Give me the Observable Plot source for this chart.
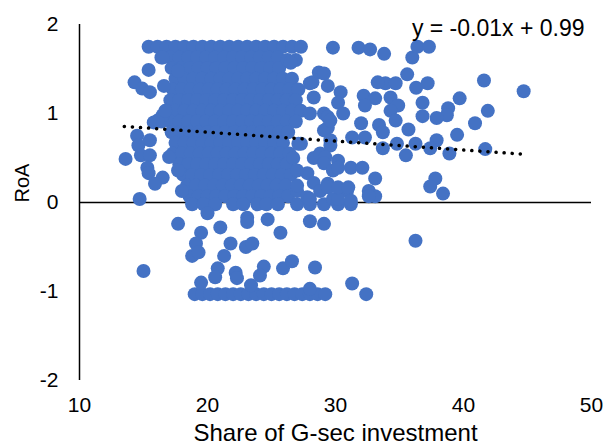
<!DOCTYPE html>
<html><head><meta charset="utf-8">
<script src="https://cdn.jsdelivr.net/npm/d3@7"></script>
<script src="https://cdn.jsdelivr.net/npm/@observablehq/plot@0.6"></script>
<style>html,body{margin:0;padding:0;background:#fff;} svg{display:block}</style>
</head><body><div id="chart"></div>
<script>
// Tick labels and titles
const xTicks = [10, 20, 30, 40, 50];
const yTicks = [-2, -1, 0, 1, 2];
const xLabel = "Share of G-sec investment";
const yLabel = "RoA";

// Trend line (Excel linear trendline)
const trendSlope = -0.01;
const trendIntercept = 0.99;
const trendXRange = [13.5, 44.6];

// Dense core of the cloud: rows of [RoA, shares]
const blobRows = [
  [1.75, [15.4,16.1,16.8,17.5,18.2,18.9,19.6,20.3,21.0,21.7,22.4,23.1,23.8,24.5,25.2,25.9,26.6,27.3]],
  [1.63, [16.4,17.1,17.8,18.5,19.2,19.9,20.6,21.3,22.0,22.7,23.4,24.1,24.8,25.5]],
  [1.51, [17.2,17.9,18.6,19.3,20.0,20.7,21.4,22.1,22.8,23.5,24.2,24.9,25.6]],
  [1.39, [17.5,18.2,18.9,19.6,20.3,21.0,21.7,22.4,23.1,23.8,24.5,25.2,25.9,26.6]],
  [1.27, [17.3,18.0,18.7,19.4,20.1,20.8,21.5,22.2,22.9,23.6,24.3,25.0,25.7,26.4,27.1]],
  [1.15, [17.1,17.8,18.5,19.2,19.9,20.6,21.3,22.0,22.7,23.4,24.1,24.8,25.5,26.2,26.9]],
  [1.03, [16.8,17.5,18.2,18.9,19.6,20.3,21.0,21.7,22.4,23.1,23.8,24.5,25.2,25.9,26.6,27.3]],
  [0.91, [16.4,17.1,17.8,18.5,19.2,19.9,20.6,21.3,22.0,22.7,23.4,24.1,24.8,25.5,26.2,26.9]],
  [0.79, [17.2,17.9,18.6,19.3,20.0,20.7,21.4,22.1,22.8,23.5,24.2,24.9,25.6,26.3]],
  [0.67, [17.5,18.2,18.9,19.6,20.3,21.0,21.7,22.4,23.1,23.8,24.5,25.2,25.9]],
  [0.55, [17.3,18.0,18.7,19.4,20.1,20.8,21.5,22.2,22.9,23.6,24.3,25.0,25.7,26.4]],
  [0.43, [17.8,18.5,19.2,19.9,20.6,21.3,22.0,22.7,23.4,24.1,24.8,25.5,26.2]],
  [0.31, [18.1,18.8,19.5,20.2,20.9,21.6,22.3,23.0,23.7,24.4,25.1,25.8,26.5]],
  [0.19, [18.4,19.1,19.8,20.5,21.2,21.9,22.6,23.3,24.0,24.7,25.4,26.1]],
  [0.07, [18.6,19.3,20.0,20.7,21.4,22.1,22.8,23.5,24.2,24.9,25.6,26.3]],
  [-0.02, [18.8,19.7,20.6,22.0,22.8,23.9,24.6,25.5,27.0,28.0,29.1,30.2,31.2]],
  [-1.03, [19.0,19.6,20.2,20.8,21.4,22.0,22.6,23.2,23.8,24.4,25.0,25.6,26.2,26.8,27.4,28.0,28.6,29.2,32.4]]
];

// Scattered points left of the core [share, RoA]
const leftScatter = [
  [13.6,0.49],[14.3,1.35],[14.9,1.28],[15.4,1.49],[15.5,1.24],[16.6,1.31],[16.5,1.63],
  [16.5,0.98],[16.1,0.92],[15.8,0.9],[14.5,0.75],[14.6,0.64],[15.5,0.70],[14.8,0.53],
  [15.5,0.53],[15.3,0.39],[15.4,0.33],[16.5,0.28],[15.9,0.21],[14.7,0.04],[17.0,0.51],
  [17.7,0.36],[18.0,0.13],[17.7,1.48],[16.7,1.03],[15.0,-0.77]
];

// Scattered points right of the core
const rightScatter = [
  [26.25,1.6],[26.9,1.6],[26.5,1.57],[28.7,1.46],[29.1,1.45],[28.2,1.35],[28.0,1.34],
  [29.4,1.31],[28.3,1.18],[29.1,1.0],[28.0,1.0],[29.4,0.96],[29.4,0.84],[29.1,0.81],
  [29.6,0.92],[29.6,0.7],[27.1,0.66],[27.3,0.66],[29.6,0.64],[28.3,0.5],[28.8,0.55],
  [26.7,0.5],[29.2,0.51],[30.2,0.47],[29.1,0.44],[27.8,0.33],[27.0,0.36],[29.8,0.36],
  [30.2,0.39],[27.0,0.13],[27.0,0.19],[28.3,0.22],[28.8,0.13],[29.4,0.21],[29.4,0.17],
  [30.9,0.13],[27.8,0.06],[28.0,0.04],[29.8,0.04],[30.2,0.04],
  [29.8,1.74],[31.8,1.74],[32.7,1.72],[33.8,1.67],[36.0,1.63],[36.4,1.75],[37.3,1.75],
  [41.6,1.37],[44.7,1.25],[41.9,1.03],[40.9,0.89],[39.7,1.17],[38.8,1.06],[38.7,0.98],
  [37.9,0.95],[39.5,0.76],[41.7,0.6],[38.9,0.55],[37.9,0.70],[37.4,0.61],[36.25,0.66],
  [35.5,0.53],[34.8,0.66],[35.7,0.82],[36.8,1.12],[36.8,0.97],[37.2,1.34],[36.3,1.29],
  [35.6,1.44],[33.9,1.34],[34.7,1.34],[33.3,1.35],[34.3,1.18],[34.9,1.09],[34.3,1.03],
  [34.7,0.92],[33.4,0.87],[33.7,0.79],[33.7,0.61],[32.0,0.89],[32.2,1.2],[33.1,1.17],
  [32.3,1.09],[30.4,1.24],[30.2,1.12],[30.6,1.0],[31.3,0.73],[32.3,0.73],[31.2,0.39],
  [32.1,0.39],[33.1,0.27],[32.6,0.13],[33.1,0.07],[30.2,0.17],[31.0,0.17],[31.2,0.02],
  [37.8,0.27],[37.4,0.18],[38.4,0.1],[32.6,0.07]
];

// Negative RoA points
const negScatter = [
  [17.7,-0.24],[20.0,-0.12],[19.5,-0.34],[21.0,-0.28],[19.1,-0.46],[18.8,-0.6],[19.3,-0.56],
  [21.8,-0.46],[21.3,-0.6],[20.8,-0.74],[20.6,-0.84],[22.2,-0.79],[22.3,-0.85],[19.5,-0.9],
  [23.0,-0.5],[23.1,-0.17],[23.1,-0.22],[24.7,-0.19],[25.7,-0.34],[28.0,-0.21],[29.1,-0.24],
  [23.5,-0.46],[24.4,-0.72],[24.1,-0.82],[25.9,-0.74],[26.6,-0.66],[28.4,-0.73],[31.3,-0.91],
  [28.0,-0.97],[23.4,-0.93],[36.25,-0.43]
];

const points = [];
for (const [yv, xs] of blobRows) for (const xv of xs) points.push({x: xv, y: yv});
for (const [xv, yv] of [...leftScatter, ...rightScatter, ...negScatter]) points.push({x: xv, y: yv});

const trendPts = trendXRange.map(xv => ({x: xv, y: trendSlope * xv + trendIntercept}));
const eqText = `y = ${trendSlope}x + ${trendIntercept}`;

const chart = Plot.plot({
  width: 612, height: 446,
  marginLeft: 79, marginRight: 21, marginTop: 24, marginBottom: 66,
  style: {fontFamily: "'Liberation Sans', Arial, sans-serif", fontSize: "21px", color: "#000", background: "#fff"},
  x: {domain: [10, 50], label: null},
  y: {domain: [-2, 2], label: null},
  marks: [
    Plot.ruleY([0], {stroke: "#000", strokeWidth: 1.5}),
    Plot.ruleX([10], {y1: -2, y2: 2, stroke: "#000", strokeWidth: 1.5}),
    Plot.dot(points, {x: "x", y: "y", r: 7, fill: "#4472C4"}),
    Plot.line(trendPts, {x: "x", y: "y", stroke: "#000", strokeWidth: 3.5, strokeDasharray: "0.1 8", strokeLinecap: "round"}),
    Plot.axisX({ticks: xTicks, tickSize: 0, tickPadding: 17, fontSize: 21, tickFormat: d => String(d), label: null}),
    Plot.axisY({ticks: yTicks, tickSize: 0, tickPadding: 21, fontSize: 21, tickFormat: d => String(d), label: null}),
    Plot.text([yLabel], {frameAnchor: "left", dx: -57, rotate: -90, fontSize: 20}),
    Plot.text([xLabel], {frameAnchor: "bottom", dy: 53, lineAnchor: "middle", fontSize: 24}),
    Plot.text([eqText], {frameAnchor: "top-right", dx: -7, dy: 4, lineAnchor: "middle", textAnchor: "end", fontSize: 23})
  ]
});
document.getElementById("chart").appendChild(chart);
</script>
</body></html>
